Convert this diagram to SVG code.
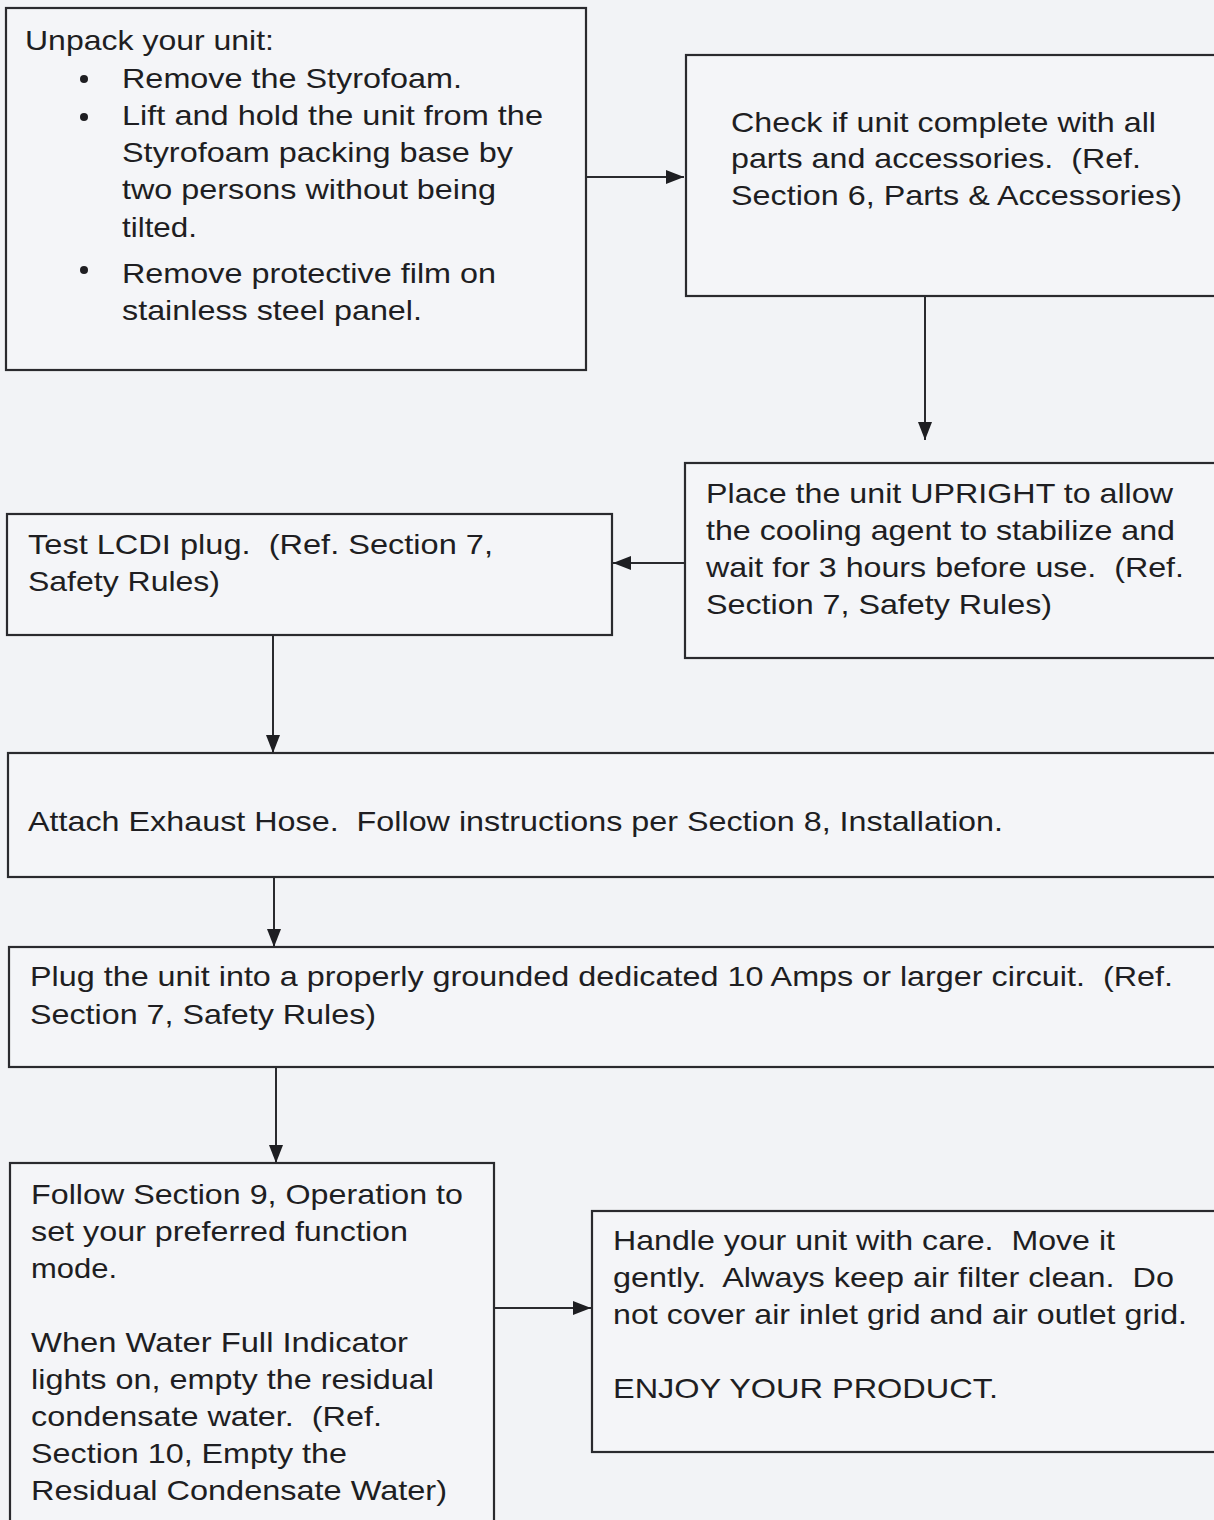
<svg xmlns="http://www.w3.org/2000/svg" width="1214" height="1520" viewBox="0 0 1214 1520">
<defs>
<marker id="ah" viewBox="0 0 10 10" refX="10" refY="5" markerWidth="10" markerHeight="10" markerUnits="userSpaceOnUse" orient="auto">
<path d="M0,0 L10,5 L0,10 z" fill="#1e1e22"/>
</marker>
<style>
.box{fill:#f4f5f8;stroke:#2a2a2e;stroke-width:2.2}
.t{font-family:"Liberation Sans",Arial,sans-serif;font-size:28px;fill:#1e1e22;white-space:pre}
.c{stroke:#2a2a2e;stroke-width:2;fill:none}
.b{fill:#1e1e22}
</style>
<marker id="a2" viewBox="0 0 18 14" refX="18" refY="7" markerWidth="18" markerHeight="14" markerUnits="userSpaceOnUse" orient="auto">
<path d="M0,0 L18,7 L0,14 z" fill="#1e1e22"/>
</marker>
</defs>
<rect width="1214" height="1520" fill="#f2f3f6"/>
<g id="connectors">
<line class="c" x1="587" y1="177" x2="684" y2="177" marker-end="url(#a2)"/>
<line class="c" x1="925" y1="297" x2="925" y2="440" marker-end="url(#a2)"/>
<line class="c" x1="685" y1="563" x2="613" y2="563" marker-end="url(#a2)"/>
<line class="c" x1="273" y1="636" x2="273" y2="753" marker-end="url(#a2)"/>
<line class="c" x1="274" y1="878" x2="274" y2="947" marker-end="url(#a2)"/>
<line class="c" x1="276" y1="1068" x2="276" y2="1163" marker-end="url(#a2)"/>
<line class="c" x1="495" y1="1308" x2="591" y2="1308" marker-end="url(#a2)"/>
</g>
<g id="unpack">
<rect class="box" x="6" y="8" width="580" height="362"/>
<text class="t" x="25" y="50" textLength="249" lengthAdjust="spacingAndGlyphs">Unpack your unit:</text>
<circle class="b" cx="84" cy="79" r="4"/>
<circle class="b" cx="84" cy="117" r="4"/>
<circle class="b" cx="84" cy="270" r="4"/>
<text class="t" x="122" y="88" textLength="340" lengthAdjust="spacingAndGlyphs">Remove the Styrofoam.</text>
<text class="t" x="122" y="125" textLength="421" lengthAdjust="spacingAndGlyphs">Lift and hold the unit from the</text>
<text class="t" x="122" y="162" textLength="391" lengthAdjust="spacingAndGlyphs">Styrofoam packing base by</text>
<text class="t" x="122" y="199" textLength="374" lengthAdjust="spacingAndGlyphs">two persons without being</text>
<text class="t" x="122" y="237" textLength="75" lengthAdjust="spacingAndGlyphs">tilted.</text>
<text class="t" x="122" y="283" textLength="374" lengthAdjust="spacingAndGlyphs">Remove protective film on</text>
<text class="t" x="122" y="320" textLength="300" lengthAdjust="spacingAndGlyphs">stainless steel panel.</text>
</g>
<g id="check">
<rect class="box" x="686" y="55" width="540" height="241"/>
<text class="t" x="731" y="132" textLength="425" lengthAdjust="spacingAndGlyphs">Check if unit complete with all</text>
<text class="t" x="731" y="168" textLength="410" lengthAdjust="spacingAndGlyphs">parts and accessories.  (Ref.</text>
<text class="t" x="731" y="205" textLength="451" lengthAdjust="spacingAndGlyphs">Section 6, Parts &amp; Accessories)</text>
</g>
<g id="upright">
<rect class="box" x="685" y="463" width="540" height="195"/>
<text class="t" x="706" y="503" textLength="467" lengthAdjust="spacingAndGlyphs">Place the unit UPRIGHT to allow</text>
<text class="t" x="706" y="540" textLength="469" lengthAdjust="spacingAndGlyphs">the cooling agent to stabilize and</text>
<text class="t" x="706" y="577" textLength="478" lengthAdjust="spacingAndGlyphs">wait for 3 hours before use.  (Ref.</text>
<text class="t" x="706" y="614" textLength="346" lengthAdjust="spacingAndGlyphs">Section 7, Safety Rules)</text>
</g>
<g id="lcdi">
<rect class="box" x="7" y="514" width="605" height="121"/>
<text class="t" x="28" y="554" textLength="465" lengthAdjust="spacingAndGlyphs">Test LCDI plug.  (Ref. Section 7,</text>
<text class="t" x="28" y="591" textLength="192" lengthAdjust="spacingAndGlyphs">Safety Rules)</text>
</g>
<g id="exhaust">
<rect class="box" x="8" y="753" width="1220" height="124"/>
<text class="t" x="28" y="831" textLength="975" lengthAdjust="spacingAndGlyphs">Attach Exhaust Hose.  Follow instructions per Section 8, Installation.</text>
</g>
<g id="plug">
<rect class="box" x="9" y="947" width="1220" height="120"/>
<text class="t" x="30" y="986" textLength="1143" lengthAdjust="spacingAndGlyphs">Plug the unit into a properly grounded dedicated 10 Amps or larger circuit.  (Ref.</text>
<text class="t" x="30" y="1024" textLength="346" lengthAdjust="spacingAndGlyphs">Section 7, Safety Rules)</text>
</g>
<g id="operation">
<rect class="box" x="10" y="1163" width="484" height="370"/>
<text class="t" x="31" y="1204" textLength="432" lengthAdjust="spacingAndGlyphs">Follow Section 9, Operation to</text>
<text class="t" x="31" y="1241" textLength="377" lengthAdjust="spacingAndGlyphs">set your preferred function</text>
<text class="t" x="31" y="1278" textLength="86" lengthAdjust="spacingAndGlyphs">mode.</text>
<text class="t" x="31" y="1352" textLength="377" lengthAdjust="spacingAndGlyphs">When Water Full Indicator</text>
<text class="t" x="31" y="1389" textLength="403" lengthAdjust="spacingAndGlyphs">lights on, empty the residual</text>
<text class="t" x="31" y="1426" textLength="351" lengthAdjust="spacingAndGlyphs">condensate water.  (Ref.</text>
<text class="t" x="31" y="1463" textLength="316" lengthAdjust="spacingAndGlyphs">Section 10, Empty the</text>
<text class="t" x="31" y="1500" textLength="416" lengthAdjust="spacingAndGlyphs">Residual Condensate Water)</text>
</g>
<g id="handle">
<rect class="box" x="592" y="1211" width="640" height="241"/>
<text class="t" x="613" y="1250" textLength="502" lengthAdjust="spacingAndGlyphs">Handle your unit with care.  Move it</text>
<text class="t" x="613" y="1287" textLength="561" lengthAdjust="spacingAndGlyphs">gently.  Always keep air filter clean.  Do</text>
<text class="t" x="613" y="1324" textLength="574" lengthAdjust="spacingAndGlyphs">not cover air inlet grid and air outlet grid.</text>
<text class="t" x="613" y="1398" textLength="385" lengthAdjust="spacingAndGlyphs">ENJOY YOUR PRODUCT.</text>
</g>
</svg>
